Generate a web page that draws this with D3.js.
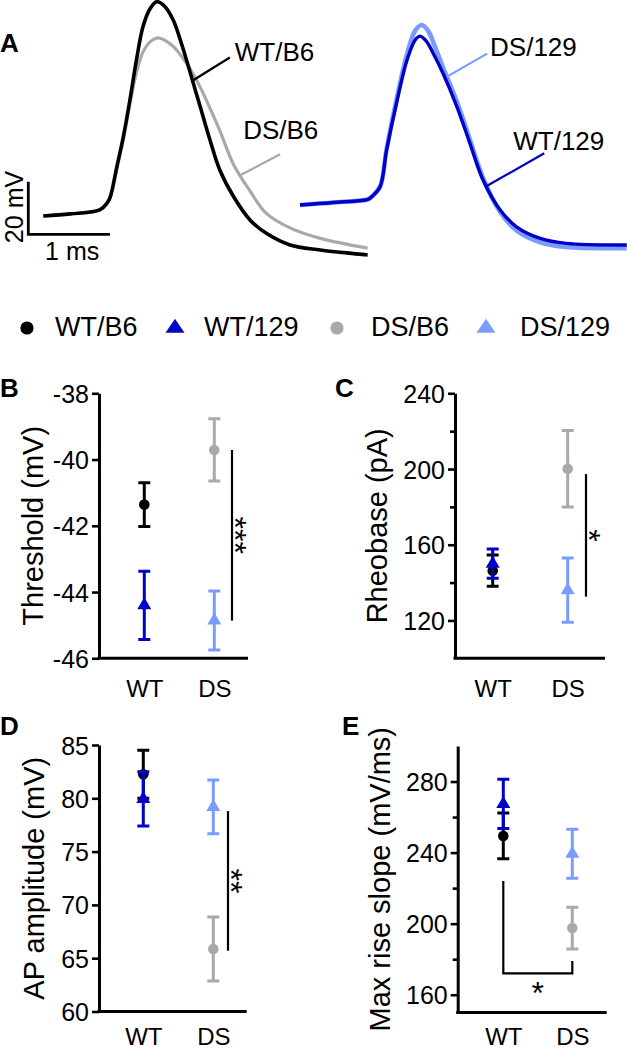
<!DOCTYPE html>
<html><head><meta charset="utf-8">
<script src="https://cdn.jsdelivr.net/npm/d3@7"></script>
<style>
body{margin:0;background:#fff}
svg{display:block}
text{font-family:"Liberation Sans",Arial,Helvetica,sans-serif;fill:#000}
</style>
</head><body>
<svg id="c" width="627" height="1050"></svg>
<script>
// ---------- Panel A: action-potential traces (time in ms, potential in mV) ----------
const tWTB6 = [0, 0.33, 0.69, 0.78, 0.82, 0.90, 0.98, 1.06, 1.14, 1.22, 1.31, 1.39, 1.49, 1.59, 1.69, 1.80, 1.92, 2.04, 2.16, 2.33, 2.53, 2.73, 3.02, 3.39, 3.97];
const vWTB6 = [-62, -61.2, -59.7, -57.1, -54.7, -43.3, -31.8, -17.9, -2.7, 10.0, 17.0, 19.5, 17.6, 12.5, 3.7, -7.7, -20.4, -33.1, -44.5, -54.7, -63.5, -68.6, -73.0, -74.9, -76.8];
const tDSB6 = [0, 0.33, 0.69, 0.78, 0.82, 0.90, 0.98, 1.06, 1.14, 1.22, 1.31, 1.40, 1.49, 1.59, 1.69, 1.80, 1.92, 2.04, 2.16, 2.33, 2.53, 2.73, 3.02, 3.39, 3.97];
const vDSB6 = [-62, -61.2, -59.7, -57.1, -54.9, -44.0, -32.8, -19.5, -7.5, 0.3, 4.3, 5.7, 4.8, 2.5, -1.2, -6.2, -13.0, -21.0, -29.5, -42.5, -52.5, -61.0, -66.5, -70.5, -74.2];
const tWT129 = [0, 0.49, 0.83, 0.88, 0.98, 1.06, 1.19, 1.31, 1.41, 1.47, 1.55, 1.63, 1.75, 1.92, 2.08, 2.24, 2.45, 2.65, 2.94, 3.26, 4.0];
const vWT129 = [-57.8, -56.7, -55.7, -54.6, -50.9, -36.9, -17.9, -2.7, 4.9, 6.4, 4.3, -0.1, -7.7, -20.4, -34.4, -48.3, -59.7, -66.1, -70.5, -72.4, -73.0];
const tDS129 = [0, 0.49, 0.83, 0.88, 0.98, 1.06, 1.19, 1.31, 1.41, 1.49, 1.57, 1.65, 1.75, 1.92, 2.08, 2.24, 2.45, 2.65, 2.94, 3.26, 4.0];
const vDS129 = [-57.8, -56.7, -55.7, -54.6, -50.9, -36.5, -16.5, -0.5, 8.5, 10.6, 8.3, 2.5, -5.5, -18.5, -33.0, -47.5, -60.5, -67.5, -72.0, -73.8, -74.2];

// ---------- Panels B-E: mean ± SEM ----------
const groups = ["WT", "DS"];
const seriesNames = ["WT/B6", "WT/129", "DS/B6", "DS/129"];
const seriesGroup = ["WT", "WT", "DS", "DS"];
const seriesShape = ["circle", "triangle", "circle", "triangle"];
const seriesColor = ["#000000", "#0000c8", "#a9a9a9", "#7b9cff"];

const thresholdMean = [-41.36, -44.40, -39.71, -44.86];
const thresholdSem  = [0.66, 1.03, 0.94, 0.89];
const thresholdTicks = [-46, -44, -42, -40, -38];

const rheobaseMean = [146.3, 150.0, 200.1, 136.0];
const rheobaseSem  = [8.3, 7.7, 20.2, 17.0];
const rheobaseTicks = [120, 160, 200, 240];
const rheobaseMinor = [140, 180, 220];

const amplitudeMean = [82.25, 79.94, 65.86, 79.19];
const amplitudeSem  = [2.25, 2.55, 3.0, 2.52];
const amplitudeTicks = [60, 65, 70, 75, 80, 85];

const slopeMean = [249.4, 267.4, 197.5, 239.3];
const slopeSem  = [12.9, 13.9, 11.8, 13.8];
const slopeTicks = [160, 200, 240, 280];
const slopeMinor = [180, 220, 260];

// ---------- drawing ----------
const svg = d3.select("#c");
const tri = (w, h) => `M0,${-2*h/3}L${w/2},${h/3}L${-w/2},${h/3}Z`;

// Panel A
const xA = d3.scaleLinear().domain([0, 1]).range([0, 81.7]);
const yA = d3.scaleLinear().domain([-62, 20]).range([216, 216 - 82 * 2.63]);
const line = d3.line().x(d => xA(d[0])).y(d => yA(d[1])).curve(d3.curveCatmullRom.alpha(0.5));
const zip = (t, v) => t.map((d, i) => [d, v[i]]);

const left = svg.append("g").attr("transform", "translate(43.3,0)");
const right = svg.append("g").attr("transform", "translate(300,0)");
left.append("path").attr("d", line(zip(tDSB6, vDSB6))).attr("fill", "none").attr("stroke", seriesColor[2]).attr("stroke-width", 3.2);
left.append("path").attr("d", line(zip(tWTB6, vWTB6))).attr("fill", "none").attr("stroke", seriesColor[0]).attr("stroke-width", 3.6);
right.append("path").attr("d", line(zip(tDS129, vDS129))).attr("fill", "none").attr("stroke", seriesColor[3]).attr("stroke-width", 4.6);
right.append("path").attr("d", line(zip(tWT129, vWT129))).attr("fill", "none").attr("stroke", seriesColor[1]).attr("stroke-width", 3.4);

// trace labels (anchor on trace in data units, label offset in px)
const traceLabels = [
  {g: left, t: 1.83, v: -10.5, dx: 37, dy: -23, text: "WT/B6", color: seriesColor[0], tx: 5, ty: 3},
  {g: left, t: 2.41, v: -46.5, dx: 40, dy: -21, text: "DS/B6", color: seriesColor[2], tx: -37, ty: -15},
  {g: right, t: 1.80, v: -9.0, dx: 40, dy: -23, text: "DS/129", color: seriesColor[3], tx: 3, ty: 2},
  {g: right, t: 2.28, v: -50.7, dx: 58, dy: -33, text: "WT/129", color: seriesColor[1], tx: -31, ty: -3}
];
traceLabels.forEach(l => {
  const x0 = xA(l.t), y0 = yA(l.v);
  l.g.append("line").attr("x1", x0).attr("y1", y0).attr("x2", x0 + l.dx).attr("y2", y0 + l.dy)
    .attr("stroke", l.color).attr("stroke-width", 2.2);
  l.g.append("text").attr("x", x0 + l.dx + l.tx).attr("y", y0 + l.dy + l.ty).attr("font-size", 26).text(l.text);
});

// scale bar
const sbX = 28.3, sbY = 234.3;
const sbH = yA(-62) - yA(-42), sbW = xA(1) - xA(0);
svg.append("path").attr("d", `M${sbX},${sbY - sbH}V${sbY}H${sbX + sbW}`).attr("fill", "none")
  .attr("stroke", "#000").attr("stroke-width", 2.8);
svg.append("text").attr("transform", `translate(23,${sbY - sbH / 2 - 1}) rotate(-90)`).attr("text-anchor", "middle")
  .attr("font-size", 25).text("20 mV");
svg.append("text").attr("x", sbX + sbW / 2 + 3).attr("y", 260).attr("text-anchor", "middle").attr("font-size", 25).text("1 ms");

// panel letters
const letters = [["A", 0, 52], ["B", 0, 397], ["C", 335, 397], ["D", 0, 735], ["E", 342, 735]];
letters.forEach(p => {
  svg.append("text").attr("x", p[1]).attr("y", p[2]).style("font-size", "26px").style("font-weight", "bold").text(p[0]);
});

// legend
const legendX = [27, 175, 337, 486];
const legendTextX = [55, 204, 371, 520];
seriesNames.forEach((s, i) => {
  const g = svg.append("g").attr("transform", `translate(${legendX[i]},328)`);
  if (seriesShape[i] === "circle") g.append("circle").attr("r", 6.6).attr("fill", seriesColor[i]);
  else g.append("path").attr("d", tri(19, 14)).attr("fill", seriesColor[i]);
  svg.append("text").attr("x", legendTextX[i]).attr("y", 336).attr("font-size", 27).text(s);
});

// dot plot panels
const panels = [
  {title: "Threshold (mV)", mean: thresholdMean, sem: thresholdSem, domain: [-46, -38], ticks: thresholdTicks, minor: [],
   ax: 99, right: 248, top: 393.3, bottom: 658.3, gx: [144.3, 214.3], titleX: 43, xLabelY: 697,
   sig: {type: "line", x: 232, v1: -39.71, v2: -44.86, text: "***"}},
  {title: "Rheobase (pA)", mean: rheobaseMean, sem: rheobaseSem, domain: [100, 240], ticks: rheobaseTicks, minor: rheobaseMinor,
   ax: 455, right: 605, top: 393.3, bottom: 658.3, gx: [492.7, 567.7], titleX: 387, xLabelY: 697,
   sig: {type: "line", x: 586, v1: 197.3, v2: 132.6, text: "*"}},
  {title: "AP amplitude (mV)", mean: amplitudeMean, sem: amplitudeSem, domain: [60, 85], ticks: amplitudeTicks, minor: [],
   ax: 99, right: 246.7, top: 745, bottom: 1011.5, gx: [143.3, 213.3], titleX: 44, xLabelY: 1045,
   sig: {type: "line", x: 228, v1: 78.8, v2: 65.7, text: "**"}},
  {title: "Max rise slope (mV/ms)", mean: slopeMean, sem: slopeSem, domain: [150, 300], ticks: slopeTicks, minor: slopeMinor,
   ax: 457.7, right: 606.7, top: 746, bottom: 1012.5, gx: [503.3, 572.3], titleX: 390, xLabelY: 1045,
   sig: {type: "bracket", v1: 224, v2: 172, v3: 179, text: "*"}}
];

panels.forEach(p => {
  const g = svg.append("g");
  const y = d3.scaleLinear().domain(p.domain).range([p.bottom, p.top]);
  const x = d3.scalePoint().domain(groups).range(p.gx);

  // y axis
  const ya = g.append("g").attr("transform", `translate(${p.ax},0)`)
    .call(d3.axisLeft(y).tickValues(p.ticks).tickFormat(d => String(d)).tickSize(7).tickSizeOuter(0).tickPadding(3));
  ya.select(".domain").attr("stroke-width", 3);
  ya.selectAll(".tick line").attr("stroke-width", 2.6);
  ya.selectAll(".tick text").attr("font-size", 25).attr("font-family", null).attr("dy", "0.36em");
  if (p.minor.length) {
    const ym = g.append("g").attr("transform", `translate(${p.ax},0)`)
      .call(d3.axisLeft(y).tickValues(p.minor).tickSize(5).tickFormat(""));
    ym.select(".domain").remove();
    ym.selectAll(".tick line").attr("stroke-width", 2.6);
  }
  // x axis
  g.append("line").attr("x1", p.ax - 1.5).attr("x2", p.right).attr("y1", p.bottom).attr("y2", p.bottom)
    .attr("stroke", "#000").attr("stroke-width", 3);
  const xa = g.append("g").attr("transform", `translate(0,${p.bottom})`).call(d3.axisBottom(x).tickSize(0));
  xa.select(".domain").remove();
  xa.selectAll(".tick text").attr("font-size", 24).attr("font-family", null).attr("dy", null).attr("y", p.xLabelY - p.bottom);

  // title
  g.append("text").attr("transform", `translate(${p.titleX},${(p.top + p.bottom) / 2}) rotate(-90)`)
    .attr("text-anchor", "middle").attr("font-size", 29).text(p.title);

  // significance
  const s = p.sig;
  if (s.type === "line") {
    g.append("line").attr("x1", s.x).attr("x2", s.x).attr("y1", y(s.v1)).attr("y2", y(s.v2))
      .attr("stroke", "#000").attr("stroke-width", 2.2);
    g.append("text").attr("transform", `translate(${s.x - 8},${(y(s.v1) + y(s.v2)) / 2}) rotate(90)`)
      .attr("text-anchor", "middle").attr("font-size", 32).text(s.text);
  } else {
    const xl = x("WT"), xr = x("DS");
    g.append("path").attr("d", `M${xl},${y(s.v1)}V${y(s.v2)}H${xr}V${y(s.v3)}`).attr("fill", "none")
      .attr("stroke", "#000").attr("stroke-width", 2.2);
    g.append("text").attr("x", (xl + xr) / 2).attr("y", y(s.v2) + 31).attr("text-anchor", "middle")
      .attr("font-size", 32).text(s.text);
  }

  // error bars + markers
  seriesNames.forEach((n, i) => {
    const cx = x(seriesGroup[i]);
    const y1 = y(p.mean[i] + p.sem[i]), y2 = y(p.mean[i] - p.sem[i]);
    g.append("path").attr("d", `M${cx},${y1}V${y2}M${cx - 6},${y1}H${cx + 6}M${cx - 6},${y2}H${cx + 6}`)
      .attr("fill", "none").attr("stroke", seriesColor[i]).attr("stroke-width", 3);
    if (seriesShape[i] === "circle")
      g.append("circle").attr("cx", cx).attr("cy", y(p.mean[i])).attr("r", 5.3).attr("fill", seriesColor[i]);
    else
      g.append("path").attr("transform", `translate(${cx},${y(p.mean[i])})`).attr("d", tri(14, 12)).attr("fill", seriesColor[i]);
  });
});
</script>
</body></html>
